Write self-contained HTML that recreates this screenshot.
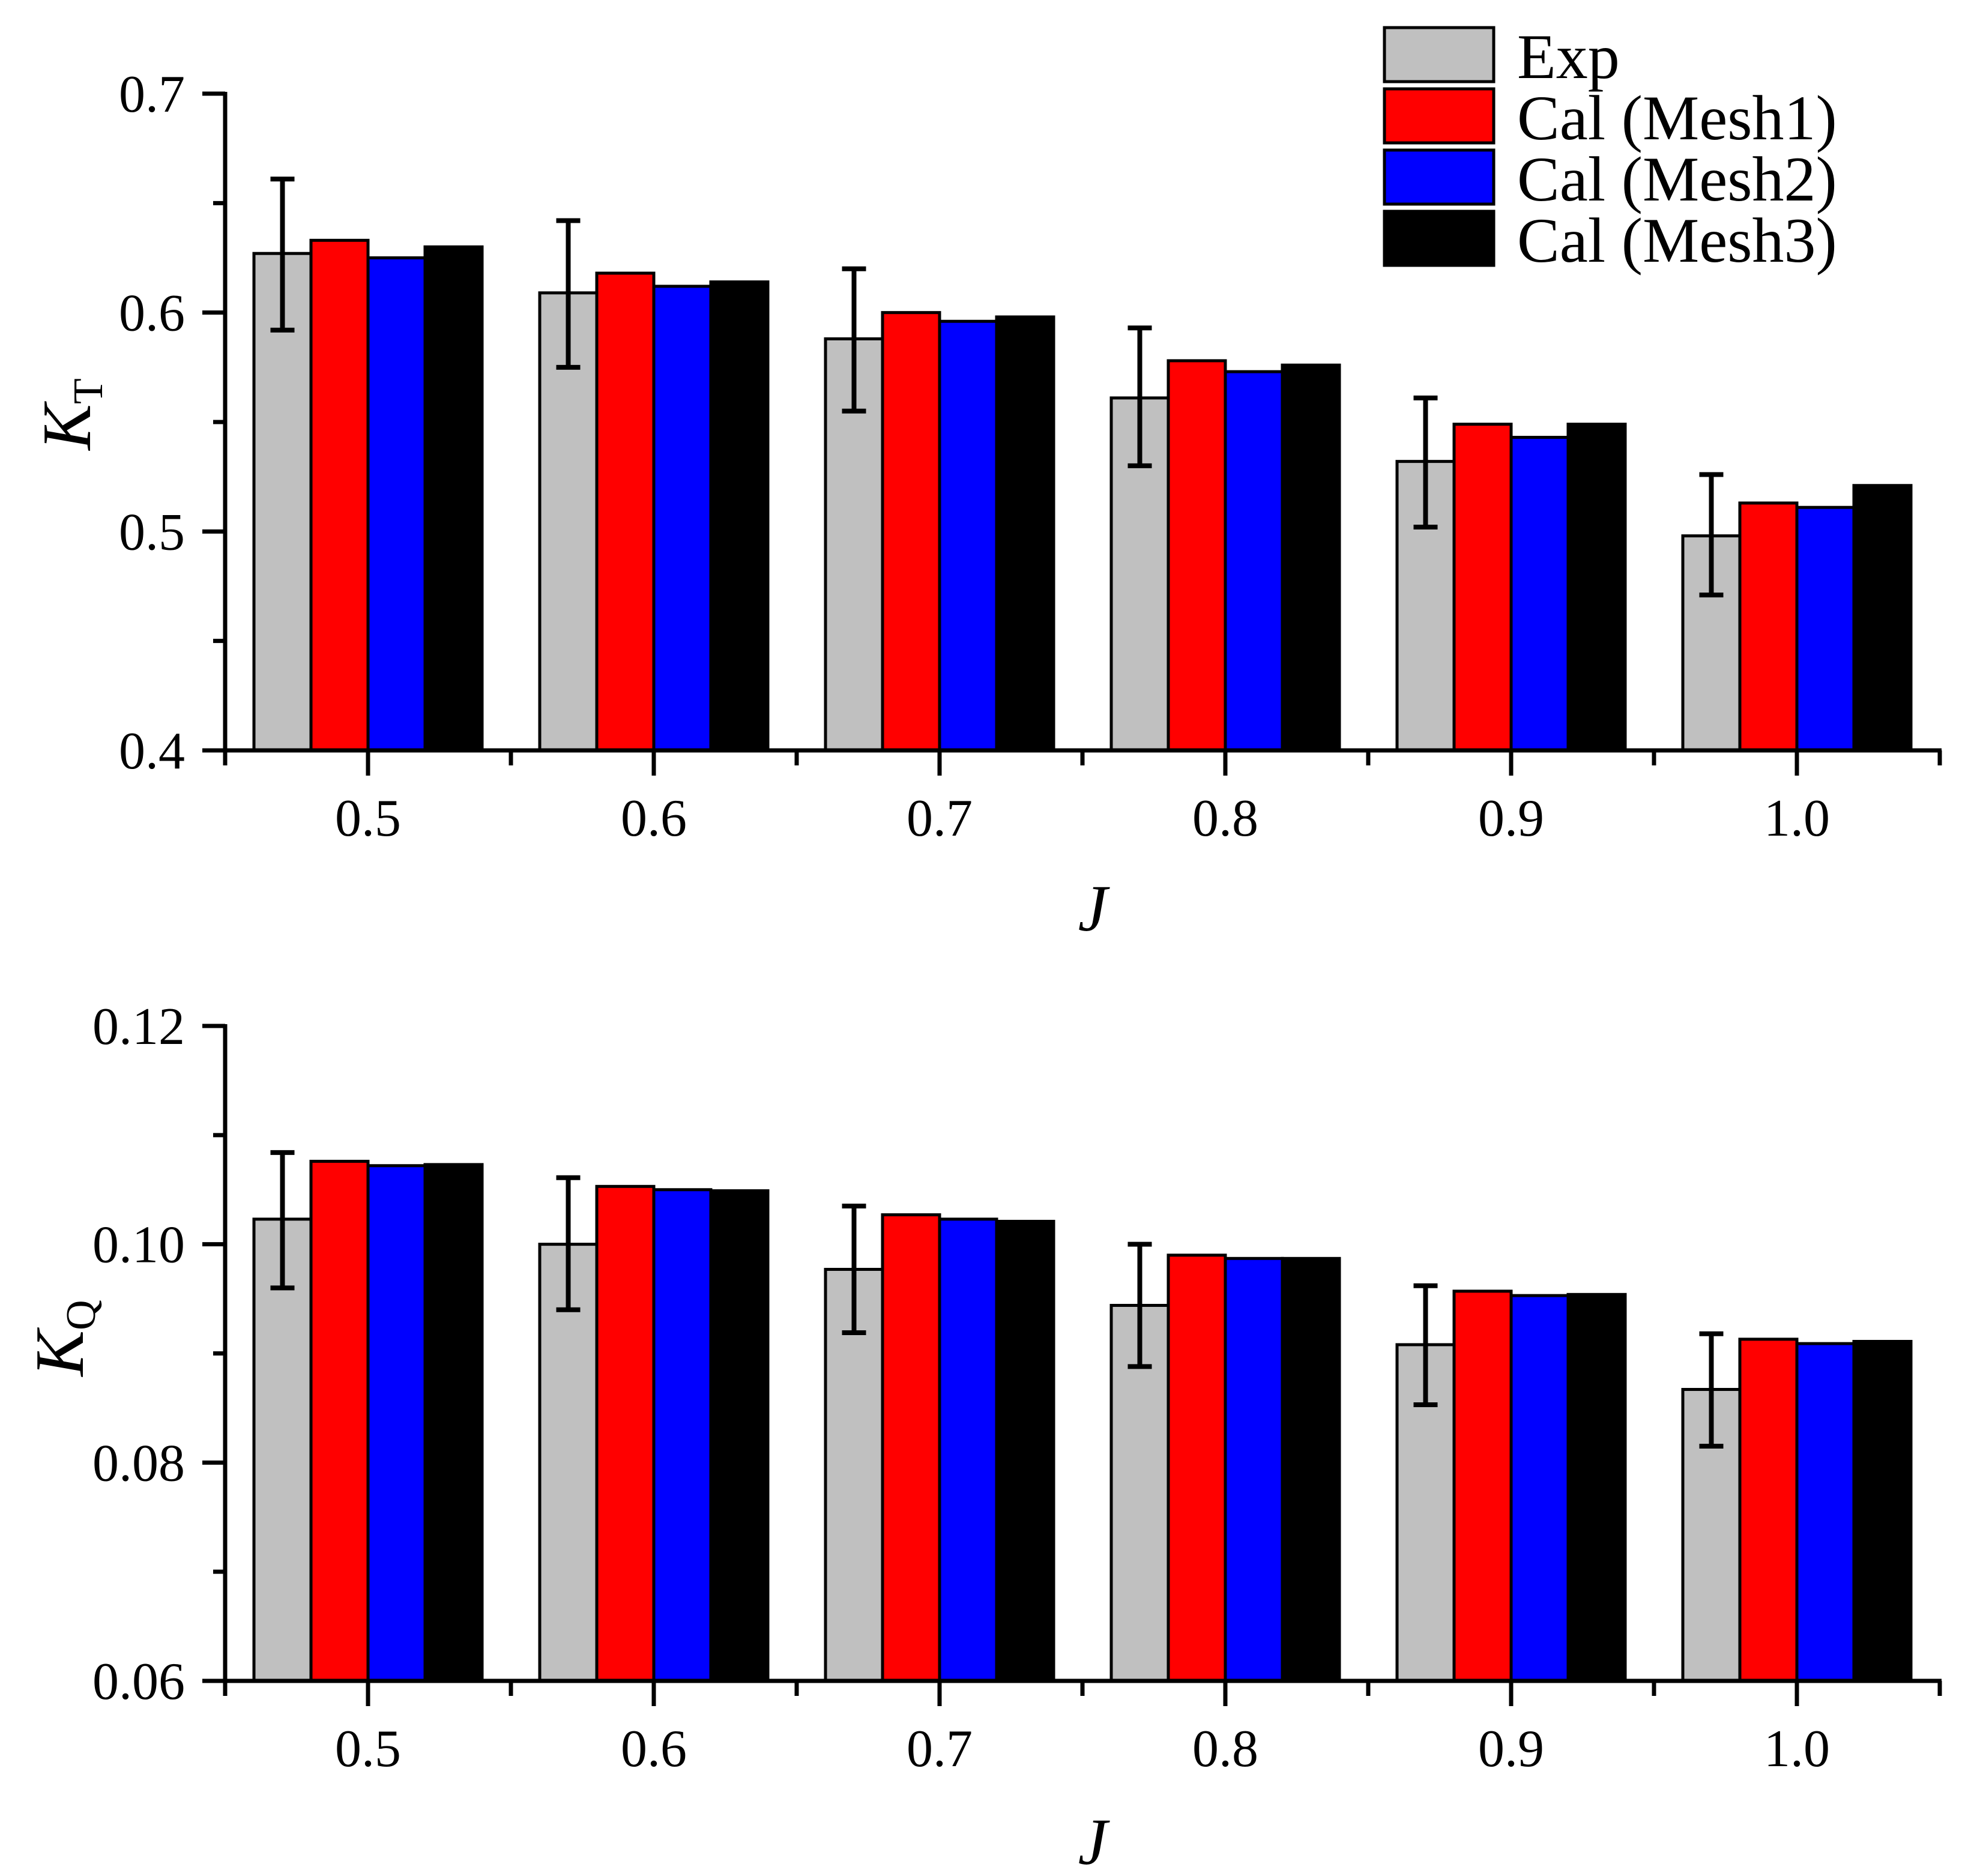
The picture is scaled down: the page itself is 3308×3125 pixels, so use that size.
<!DOCTYPE html>
<html><head><meta charset="utf-8"><style>
html,body{margin:0;padding:0;background:#fff;}
svg{display:block;font-family:"Liberation Serif",serif;}
</style></head>
<body>
<svg id="chart" width="3308" height="3125" viewBox="0 0 3308 3125" xmlns="http://www.w3.org/2000/svg"></svg>
<script>
const categories = ["0.5","0.6","0.7","0.8","0.9","1.0"];
const seriesNames = ["Exp","Cal (Mesh1)","Cal (Mesh2)","Cal (Mesh3)"];
const ktExp   = [0.627,0.609,0.588,0.561,0.532,0.498];
const ktExpHi = [0.661,0.642,0.620,0.593,0.561,0.526];
const ktExpLo = [0.592,0.575,0.555,0.530,0.502,0.471];
const ktMesh1 = [0.633,0.618,0.600,0.578,0.549,0.513];
const ktMesh2 = [0.625,0.612,0.596,0.573,0.543,0.511];
const ktMesh3 = [0.630,0.614,0.598,0.576,0.549,0.521];
const kqExp   = [0.1023,0.1000,0.0977,0.0944,0.0908,0.0867];
const kqExpHi = [0.1084,0.1061,0.1035,0.1000,0.0962,0.0918];
const kqExpLo = [0.0960,0.0940,0.0919,0.0888,0.0853,0.0815];
const kqMesh1 = [0.1076,0.1053,0.1027,0.0990,0.0957,0.0913];
const kqMesh2 = [0.1072,0.1050,0.1023,0.0987,0.0953,0.0909];
const kqMesh3 = [0.1073,0.1049,0.1021,0.0987,0.0954,0.0911];
const ktTicks = ["0.4","0.5","0.6","0.7"];
const kqTicks = ["0.06","0.08","0.10","0.12"];

const NS="http://www.w3.org/2000/svg";
const svg=document.getElementById('chart');
const colors=["#c0c0c0","#ff0000","#0000ff","#000000"];
function mk(tag,attrs,parent){const e=document.createElementNS(NS,tag);for(const k in attrs)e.setAttribute(k,attrs[k]);(parent||svg).appendChild(e);return e;}

function panel(cfg){
  const x0=375,x1=3231,yTop=cfg.yTop,yBot=cfg.yBot;
  const yS=v=>yBot-(v-cfg.vmin)/(cfg.vmax-cfg.vmin)*(yBot-yTop);
  const bin=(x1-x0)/categories.length;
  const xC=i=>x0+bin*(i+0.5);
  const g=mk('g',{});
  
  
  const bw=95;
  categories.forEach((c,i)=>{
    cfg.series.forEach((arr,s)=>{
      const y=yS(arr[i]);
      const r=mk('rect',{x:xC(i)-2*bw+s*bw,y:y,width:bw,height:yBot-y,fill:colors[s],stroke:"#000","stroke-width":5},g);
      
      
    });
    const ex=xC(i)-1.5*bw;
    const eg=mk('g',{stroke:"#000","stroke-width":8},g);
    
    
    mk('line',{x1:ex,x2:ex,y1:yS(cfg.hi[i]),y2:yS(cfg.lo[i])},eg);
    mk('line',{x1:ex-20,x2:ex+20,y1:yS(cfg.hi[i]),y2:yS(cfg.hi[i])},eg);
    mk('line',{x1:ex-20,x2:ex+20,y1:yS(cfg.lo[i]),y2:yS(cfg.lo[i])},eg);
  });
  const ax=mk('g',{stroke:"#000","stroke-width":7,fill:"none"},g);
  
  
  mk('line',{x1:x0,x2:x0,y1:yTop-3,y2:yBot+3},ax);
  mk('line',{x1:x0-3,x2:x1+3,y1:yBot,y2:yBot},ax);
  cfg.ticks.forEach((t,k)=>{
    const v=parseFloat(t),y=yS(v);
    mk('line',{x1:x0-38,x2:x0,y1:y,y2:y},ax);
    const tx=mk('text',{x:308,y:y+30,"text-anchor":"end","font-size":88,fill:"#000"},g);
    tx.textContent=t;
    
    
    if(k<cfg.ticks.length-1){
      const vm=(v+parseFloat(cfg.ticks[k+1]))/2,ym=yS(vm);
      mk('line',{x1:x0-20,x2:x0,y1:ym,y2:ym},ax);
    }
  });
  for(let i=0;i<=categories.length;i++){
    const xb=x0+bin*i;
    mk('line',{x1:xb,x2:xb,y1:yBot,y2:yBot+25},ax);
  }
  categories.forEach((c,i)=>{
    mk('line',{x1:xC(i),x2:xC(i),y1:yBot,y2:yBot+42},ax);
    const tx=mk('text',{x:xC(i),y:yBot+142,"text-anchor":"middle","font-size":88,fill:"#000"},g);
    tx.textContent=c;
    
    
  });
  const xt=mk('text',{x:1820,y:cfg.jY,"text-anchor":"middle","font-size":110,"font-style":"italic",fill:"#000"},g);
  xt.textContent="J";
  
  
  const yt=mk('text',{transform:`translate(${cfg.ytX},${cfg.ytY}) rotate(-90)`,"text-anchor":"middle","font-size":115,fill:"#000"},g);
  
  
  const k1=mk('tspan',{"font-style":"italic"},yt);k1.textContent="K";
  const k2=mk('tspan',{"font-size":70,dy:20},yt);k2.textContent=cfg.sub;
}

panel({key:'kt',name:'kt-panel',yTop:156,yBot:1250,vmin:0.4,vmax:0.7,ticks:ktTicks,
  series:[ktExp,ktMesh1,ktMesh2,ktMesh3],hi:ktExpHi,lo:ktExpLo,jY:1550,ytX:150,ytY:690,sub:"T"});
panel({key:'kq',name:'kq-panel',yTop:1709,yBot:2800,vmin:0.06,vmax:0.12,ticks:kqTicks,
  series:[kqExp,kqMesh1,kqMesh2,kqMesh3],hi:kqExpHi,lo:kqExpLo,jY:3105,ytX:138,ytY:2229,sub:"Q"});

const lg=mk('g',{});


seriesNames.forEach((n,s)=>{
  const y=46+s*102;
  const it=mk('g',{},lg);
  
  
  mk('rect',{x:2306,y:y,width:182,height:90,fill:colors[s],stroke:"#000","stroke-width":5},it);
  const t=mk('text',{x:2527,y:y+84,"font-size":106,fill:"#000"},it);
  t.textContent=n;
});
</script>
</body></html>
